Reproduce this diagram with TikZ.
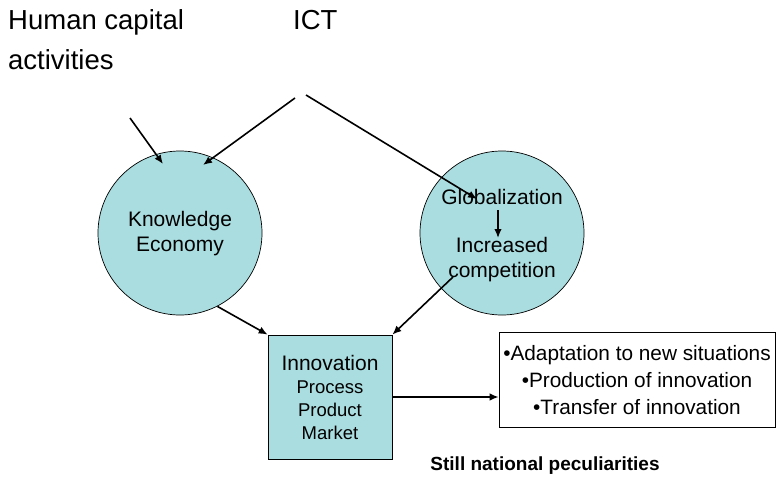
\documentclass[tikz,border=0pt]{standalone}
\usepackage{fontspec}
\setmainfont{Liberation Sans}
\usetikzlibrary{arrows.meta}
\definecolor{teallight}{RGB}{170,221,224}
\begin{document}
\begin{tikzpicture}[x=1pt,y=-1pt,
  arr/.style={line width=1.6pt,-{Latex[length=9pt,width=7.5pt]}},
  bubble/.style={circle,draw,line width=0.7pt,fill=teallight,minimum size=164pt,inner sep=0pt},
  lbl/.style={inner sep=0pt,align=center,font=\fontsize{21}{25}\selectfont},
  big/.style={inner sep=0pt,font=\fontsize{27.5}{32}\selectfont}]
\useasboundingbox (0,0) rectangle (784,477);
% top labels
\node[big,anchor=base west] (hc1) at (8,29) {Human capital};
\node[big,anchor=base west] (hc2) at (8,69) {activities};
\node[big,anchor=base west] (ict) at (293,29) {ICT};
% circles
\node[bubble] (ke) at (180,233) {};
\node[bubble] (gl) at (502,233) {};
\node[lbl] (ketext) at (180,234) {Knowledge\\Economy};
\node[lbl] (glob) at (502,197) {Globalization};
\node[lbl] (comp) at (502,260) {Increased\\competition};
% innovation box
\node[draw,line width=0.7pt,fill=teallight,minimum width=124pt,minimum height=124pt,inner sep=0pt,align=center,font=\fontsize{18.5}{23}\selectfont] (inno) at (330,397)
  {{\fontsize{21}{23}\selectfont Innovation}\\Process\\Product\\Market};
% results box
\node[draw,line width=0.7pt,minimum width=276pt,minimum height=95pt,inner sep=0pt,align=center,font=\fontsize{20.8}{27}\selectfont] (res) at (637,380)
  {•Adaptation to new situations\\•Production of innovation\\•Transfer of innovation};
\node[inner sep=0pt,font=\fontsize{19}{23}\selectfont\bfseries] (still) at (545,466) {Still national peculiarities};
% coordinates
\coordinate (hcs) at (130,118);
\coordinate (hce) at (163,164);
\coordinate (icl) at (295,98);
\coordinate (icle) at (203,165);
\coordinate (icr) at (306,95);
\coordinate (icre) at (477,199);
\coordinate (gs) at (498,210);
\coordinate (ge) at (498,238);
\coordinate (cs) at (453,277);
% connectors
\draw[arr] (hcs) -- (hce);
\draw[arr] (icl) -- (icle);
\draw[arr] (icr) -- (icre);
\draw[arr] (gs) -- (ge);
\draw[arr] (ke.-63) -- (inno.north west);
\draw[arr] (cs) -- (inno.north east);
\draw[arr] (inno.east) -- (inno.east -| res.west);
\end{tikzpicture}
\end{document}
